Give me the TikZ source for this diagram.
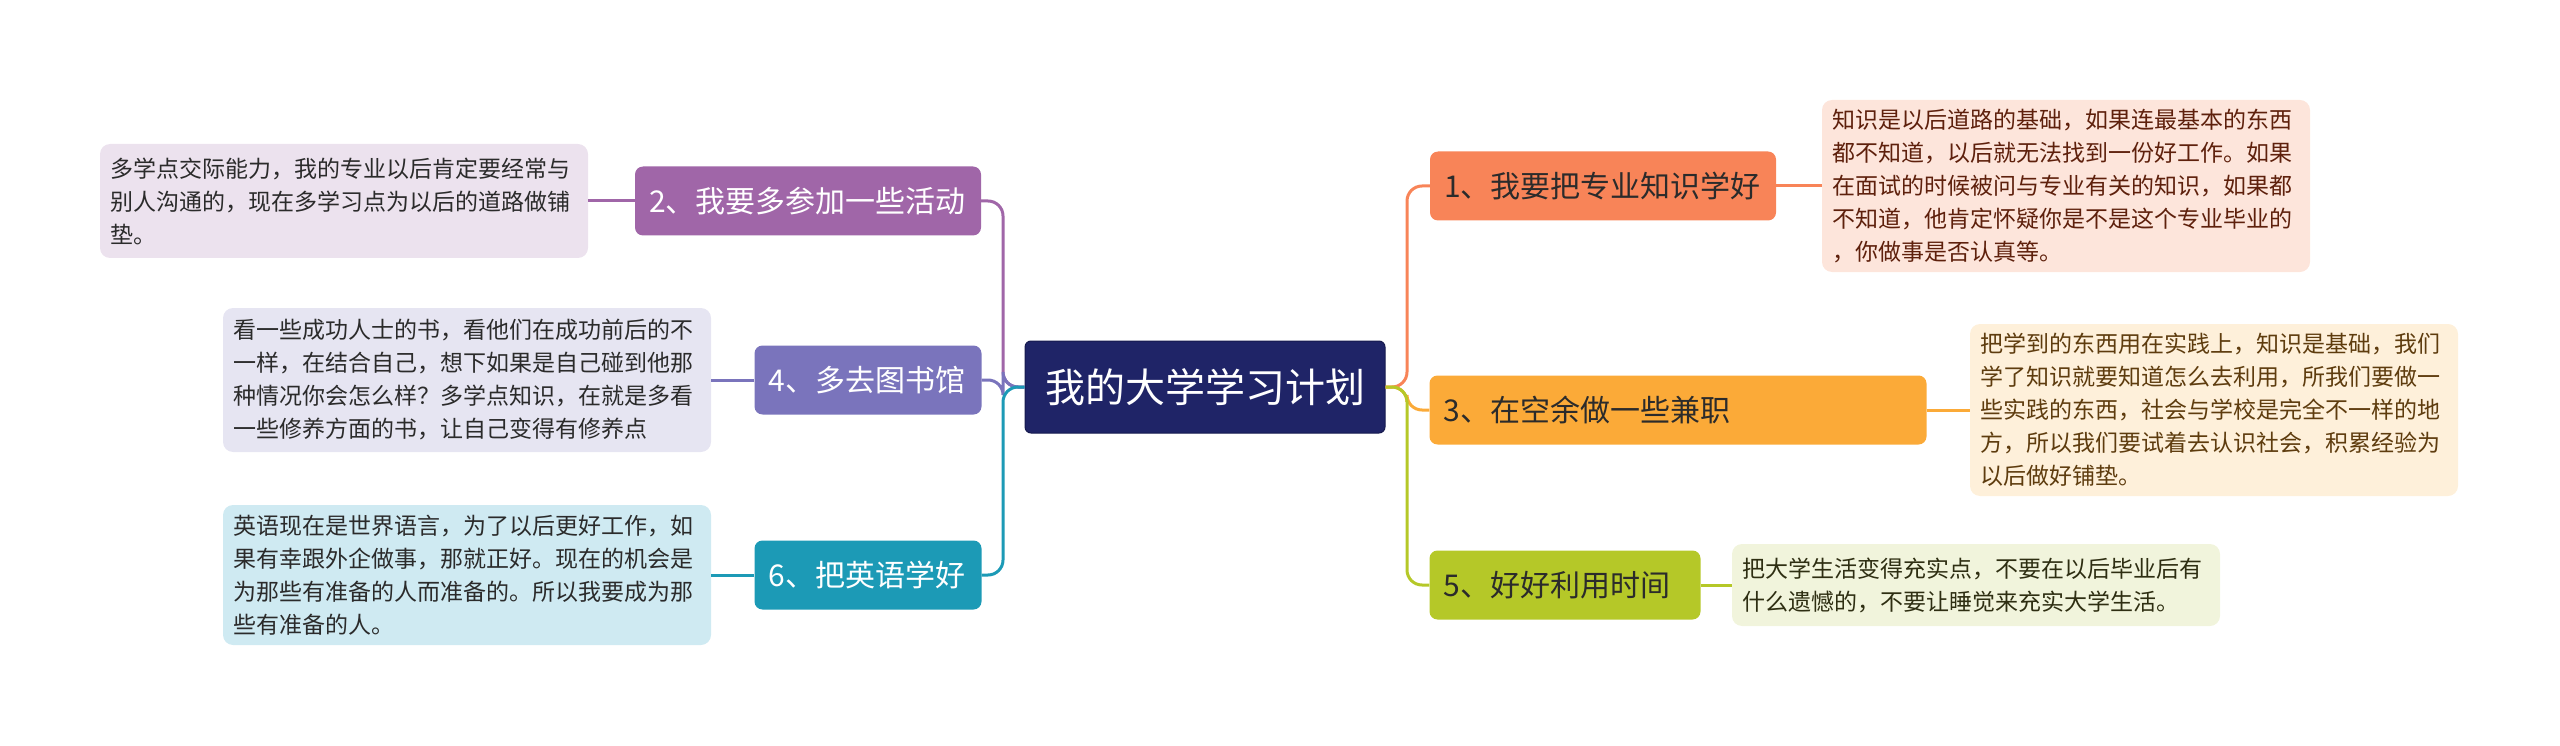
\documentclass[tikz,border=0pt]{standalone}
\usepackage{fontspec}
\setmainfont{Noto Sans CJK SC}
\definecolor{cnavy}{HTML}{1F2467}
\definecolor{cnavyd}{HTML}{161A4E}
\definecolor{cA}{HTML}{F88458}
\definecolor{cAl}{HTML}{FDE5DB}
\definecolor{cAt}{HTML}{5E200C}
\definecolor{cB}{HTML}{FBAA38}
\definecolor{cBl}{HTML}{FEF0DA}
\definecolor{cBt}{HTML}{5E3C0E}
\definecolor{cC}{HTML}{B5C828}
\definecolor{cCl}{HTML}{F1F4DC}
\definecolor{cCt}{HTML}{2E2E12}
\definecolor{cD}{HTML}{A066A8}
\definecolor{cDl}{HTML}{ECE2EE}
\definecolor{cE}{HTML}{7A74BC}
\definecolor{cEl}{HTML}{E6E5F2}
\definecolor{cF}{HTML}{1C9AB6}
\definecolor{cFl}{HTML}{CFEAF2}
\definecolor{ctxt}{HTML}{2B2B2B}
\begin{document}
\begin{tikzpicture}[x=1pt,y=1pt,
  mainbox/.style={draw=cnavyd, fill=cnavy, rounded corners=6pt, text=white,
    font=\fontsize{40}{48}\selectfont, minimum width=360pt, minimum height=92pt,
    inner sep=0pt, line width=1pt},
  topic/.style={rounded corners=8pt, minimum height=69pt, inner xsep=14pt,
    inner ysep=0pt, font=\fontsize{30}{36}\selectfont, align=left},
  leafbox/.style={rounded corners=10pt, inner xsep=10pt, inner ysep=0pt,
    font=\fontsize{23}{33}\selectfont, align=left, text width=468pt},
  link/.style={line width=3pt, rounded corners=15pt}]
\useasboundingbox (0,0) rectangle (2560,-746);

\node[mainbox] (C) at (1205,-387) {我的大学学习计划};

\node[topic, fill=cA, text=ctxt, text width=318pt] (N1) at (1603,-186) {1、我要把专业知识学好};
\node[topic, fill=cB, text=ctxt, text width=469pt] (N3) at (1678,-410) {3、在空余做一些兼职};
\node[topic, fill=cC, text=ctxt, text width=243pt] (N5) at (1565,-585) {5、好好利用时间};
\node[topic, fill=cD, text=white, text width=318pt] (N2) at (808,-201) {2、我要多参加一些活动};
\node[topic, fill=cE, text=white, text width=199pt] (N4) at (868,-380) {4、多去图书馆};
\node[topic, fill=cF, text=white, text width=199pt] (N6) at (868,-575) {6、把英语学好};

\node[leafbox, fill=cAl, text=cAt, minimum height=172pt] (L1) at (2066,-186) {知识是以后道路的基础，如果连最基本的东西\\都不知道，以后就无法找到一份好工作。如果\\在面试的时候被问与专业有关的知识，如果都\\不知道，他肯定怀疑你是不是这个专业毕业的\\，你做事是否认真等。};
\node[leafbox, fill=cBl, text=cBt, minimum height=172pt] (L3) at (2214,-410) {把学到的东西用在实践上，知识是基础，我们\\学了知识就要知道怎么去利用，所我们要做一\\些实践的东西，社会与学校是完全不一样的地\\方，所以我们要试着去认识社会，积累经验为\\以后做好铺垫。};
\node[leafbox, fill=cCl, text=cCt, minimum height=82pt] (L5) at (1976,-585) {把大学生活变得充实点，不要在以后毕业后有\\什么遗憾的，不要让睡觉来充实大学生活。};
\node[leafbox, fill=cDl, text=ctxt, minimum height=114pt] (L2) at (344,-201) {多学点交际能力，我的专业以后肯定要经常与\\别人沟通的，现在多学习点为以后的道路做铺\\垫。};
\node[leafbox, fill=cEl, text=ctxt, minimum height=144pt] (L4) at (467,-380) {看一些成功人士的书，看他们在成功前后的不\\一样，在结合自己，想下如果是自己碰到他那\\种情况你会怎么样？多学点知识，在就是多看\\一些修养方面的书，让自己变得有修养点};
\node[leafbox, fill=cFl, text=ctxt, minimum height=140pt] (L6) at (467,-575) {英语现在是世界语言，为了以后更好工作，如\\果有幸跟外企做事，那就正好。现在的机会是\\为那些有准备的人而准备的。所以我要成为那\\些有准备的人。};

\coordinate (lb) at (1003,-387);
\coordinate (rb) at (1407,-387);

\draw[link, cA] (C.east) -- (rb) |- (N1.west);
\draw[link, cB] (C.east) -- (rb) |- (N3.west);
\draw[link, cC] (C.east) -- (rb) |- (N5.west);
\draw[link, cD] (C.west) -- (lb) |- (N2.east);
\draw[link, cE] (C.west) -- (lb) |- (N4.east);
\draw[link, cF] (C.west) -- (lb) |- (N6.east);

\draw[link, cA] (N1.east) -- (L1.west);
\draw[link, cB] (N3.east) -- (L3.west);
\draw[link, cC] (N5.east) -- (L5.west);
\draw[link, cD] (N2.west) -- (L2.east);
\draw[link, cE] (N4.west) -- (L4.east);
\draw[link, cF] (N6.west) -- (L6.east);
\end{tikzpicture}
\end{document}
